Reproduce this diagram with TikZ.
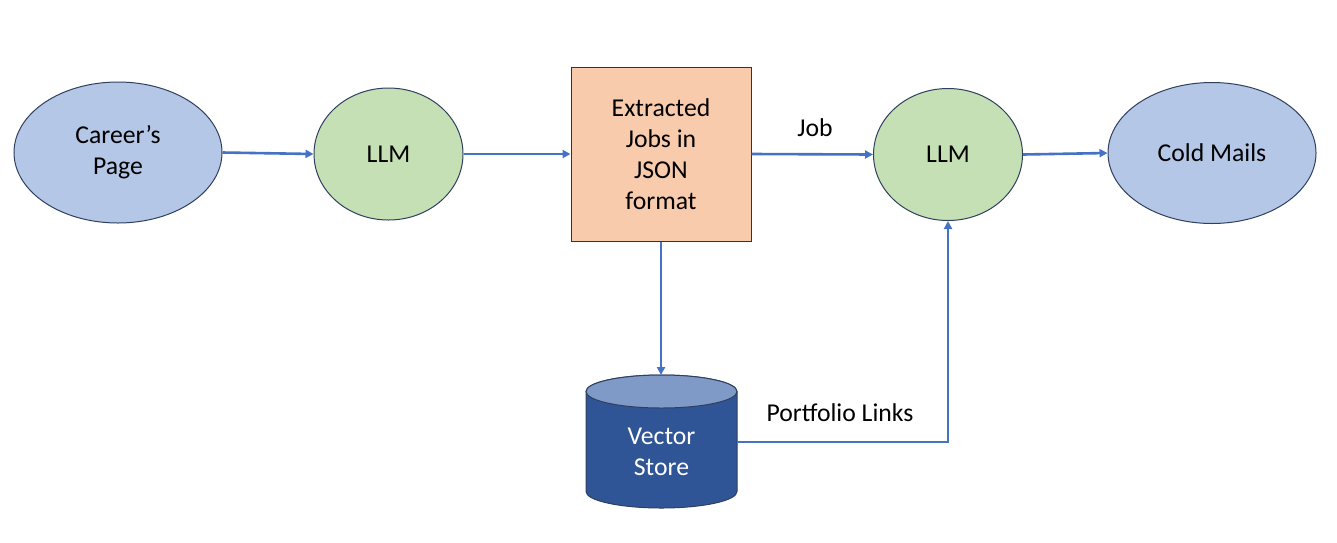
\documentclass[tikz,border=0pt]{standalone}
\usepackage{fontspec}
\setmainfont{Carlito}
\usetikzlibrary{shapes.geometric,arrows.meta}
\definecolor{bluefill}{HTML}{B4C7E7}
\definecolor{greenfill}{HTML}{C5E0B4}
\definecolor{orangefill}{HTML}{F8CBAD}
\definecolor{cyldark}{HTML}{2F5597}
\definecolor{cyltop}{HTML}{7F9AC7}
\definecolor{arrowblue}{HTML}{4472C4}
\definecolor{edgedark}{HTML}{2F3F5F}
\tikzset{
  txt/.style={font=\fontsize{25.7pt}{31pt}\selectfont, align=center},
  oval/.style={ellipse, draw=edgedark, line width=1pt, inner sep=0pt, txt},
  bluenode/.style={oval, fill=bluefill, minimum width=208pt, minimum height=141pt},
  greennode/.style={oval, fill=greenfill, minimum width=149pt, minimum height=132pt},
  boxnode/.style={rectangle, draw=black!80, line width=1pt, fill=orangefill, minimum width=180pt, minimum height=174pt, inner sep=0pt, txt},
  flow/.style={draw=arrowblue, line width=2.6pt, -{Triangle[length=8pt,width=8pt]}},
  lbl/.style={txt}
}
\begin{document}
\begin{tikzpicture}[x=1pt,y=-1pt]
\useasboundingbox (0,0) rectangle (1337,542);
\node[bluenode] (car) at (118,152.5) {Career’s\\Page};
\node[greennode] (llm1) at (388.5,154) {LLM};
\node[boxnode] (box) at (661,154) {Extracted\\Jobs in\\JSON\\format};
\node[greennode] (llm2) at (948,154.5) {LLM};
\node[bluenode] (cold) at (1212,153) {Cold Mails};
% cylinder
\fill[cyldark, draw=edgedark, line width=1pt] (586,391.5) -- (586,491.5) arc[start angle=180, end angle=360, x radius=75.5, y radius=-16.5] -- (737,391.5) arc[start angle=0, end angle=180, x radius=75.5, y radius=-16.5] -- cycle;
\filldraw[fill=cyltop, draw=edgedark, line width=1pt] (661.5,391.5) ellipse[x radius=75.5, y radius=16.5];
\node[txt, text=white] (vs) at (661.5,452) {Vector\\Store};
\coordinate (vstop) at (661,375);
\coordinate (vsright) at (737,442);
% connectors
\draw[flow] (car.east) -- (llm1.west);
\draw[flow] (llm1.east) -- (box.west);
\draw[flow] (box.east) -- (llm2.west);
\draw[flow] (llm2.east) -- (cold.west);
\draw[flow] (box.south) -- (vstop);
\draw[flow] (vsright) -| (llm2.south);
\node[lbl] (joblbl) at (815,128) {Job};
\node[lbl] (pflbl) at (840,413) {Portfolio Links};
\end{tikzpicture}
\end{document}
